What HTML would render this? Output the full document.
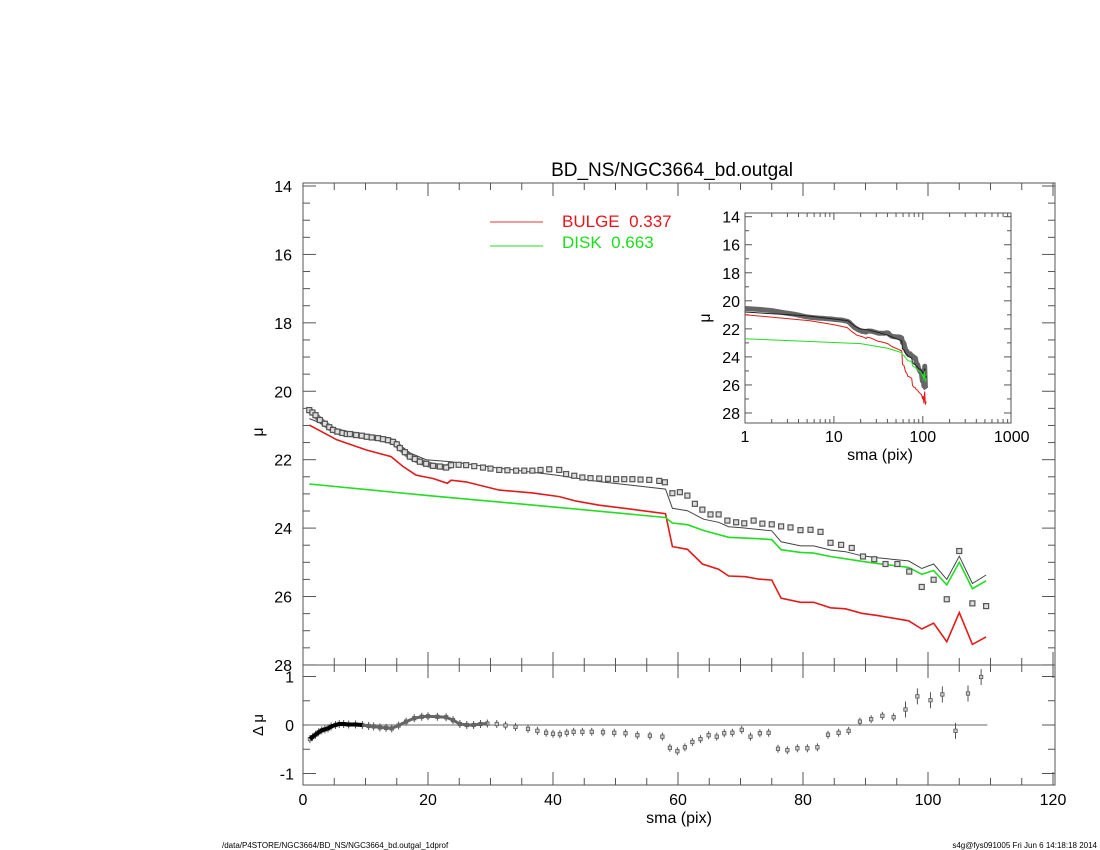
<!DOCTYPE html>
<html><head><meta charset="utf-8"><style>
html,body{margin:0;padding:0;background:#fff}
svg{display:block}
text{font-family:"Liberation Sans",Arial,sans-serif}
</style></head><body>
<svg id="c" width="1100" height="850" xmlns="http://www.w3.org/2000/svg"></svg>
<script>
// ---- data ----
const dataSma=[1,1.5,2,2.7,3.5,4.2,4.8,5.5,6.3,7,7.5,8.5,9.4,10.2,11,12,12.8,13.6,14.4,15,15.5,16.3,17.1,17.9,18.7,19.7,20.8,21.9,22.9,23.7,24.9,26.1,27.4,28.8,30,31.4,32.7,34.1,35.4,36.7,38,39.4,41,42.1,43.4,44.7,46,47.4,48.8,50.1,51.4,52.7,54,55.4,57,57.9,59.1,60.3,61.5,62.7,63.9,65.2,66.5,67.9,69.3,70.6,72.1,73.5,75,76.5,78,79.6,81.2,82.8,84.4,86.1,87.8,89.6,91.4,93.2,95.1,97,99,100.9,103,105,107.1,109.3];
const dataMu=[20.55,20.62,20.7,20.84,20.95,21.05,21.13,21.18,21.22,21.25,21.25,21.28,21.3,21.33,21.35,21.37,21.4,21.43,21.48,21.55,21.66,21.78,21.91,21.98,22.06,22.12,22.18,22.2,22.23,22.16,22.15,22.16,22.19,22.23,22.26,22.3,22.31,22.32,22.32,22.32,22.3,22.28,22.3,22.42,22.47,22.52,22.54,22.55,22.56,22.57,22.57,22.57,22.58,22.59,22.62,22.66,22.98,22.95,23.05,23.29,23.46,23.6,23.6,23.78,23.83,23.86,23.78,23.87,23.89,23.95,23.98,24.06,24.05,24.11,24.43,24.49,24.58,24.83,24.91,25.05,25.05,25.27,25.72,25.51,26.08,24.67,26.2,26.28];
const totalSma=[1,4.8,10,14.4,17.1,19.7,23.7,31.4,40.5,47.4,58,59.1,61.5,64.1,66.5,68.1,70.2,72.9,75,76.5,79.6,81.7,84.4,86.8,89.4,92.1,96.9,99,100.9,103,105,107.1,109.3];
const totalMu=[20.8,21.07,21.3,21.42,21.8,22.0,22.06,22.25,22.45,22.64,22.86,23.42,23.49,23.74,23.83,23.96,23.99,24.04,24.08,24.4,24.52,24.52,24.64,24.69,24.81,24.87,24.96,25.18,25.05,25.5,24.82,25.62,25.37];
const bulgeSma=[1,5.4,10.2,14.1,16,18.1,20.8,23.1,23.7,26.1,31.4,36.7,41,43.7,47.4,52.7,58,59.1,61.5,63.9,66.5,68.1,70.8,72.9,75,76.5,79.6,81.7,84.4,86.8,89.4,92.1,96.9,99,100.9,103,105,107.1,109.3];
const bulgeMu=[20.99,21.42,21.72,21.91,22.2,22.45,22.55,22.69,22.6,22.65,22.89,22.97,23.08,23.21,23.33,23.45,23.58,24.54,24.62,25.05,25.2,25.4,25.42,25.49,25.52,26.05,26.17,26.17,26.33,26.36,26.49,26.56,26.71,26.95,26.78,27.32,26.47,27.4,27.18];
const diskSma=[1,20,40,58,59.1,61.5,64.1,68.1,72.9,75,76.5,79.6,81.7,84.4,89.4,92.1,96.9,99,100.9,103,105,107.1,109.3];
const diskMu=[22.71,23.05,23.38,23.69,23.85,23.9,24.07,24.27,24.31,24.34,24.63,24.71,24.73,24.83,24.97,25.04,25.15,25.35,25.24,25.66,25.0,25.77,25.54];
const resSma=[1.1,1.5,2,2.5,3,3.5,4,4.5,5.2,5.8,6.5,7.3,8.4,9.5,10.5,11.3,12.3,13.3,14.2,15.3,16.5,17.8,19,20,21.5,22.9,24,25.1,26.2,27.3,28.4,29.5,31,32.4,34,36,37.5,38.9,40,41.1,42.2,43.3,44.7,46.2,48,49.8,51.6,53.5,55.5,57.5,58.7,59.9,61.1,62.3,63.6,64.9,66.2,67.4,68.7,70.2,71.6,73.1,74.5,76,77.5,79.1,80.7,82.3,84,85.7,87.3,89.1,90.9,92.7,94.5,96.4,98.3,100.4,102.3,104.4,106.4,108.5];
const resVal=[-0.29,-0.25,-0.2,-0.15,-0.11,-0.09,-0.07,-0.03,0,0.02,0.02,0.01,0.01,0,-0.02,-0.03,-0.05,-0.06,-0.07,-0.01,0.07,0.14,0.17,0.18,0.17,0.16,0.1,0.02,0,0,0.02,0.03,0.02,-0.01,-0.04,-0.08,-0.12,-0.16,-0.18,-0.19,-0.16,-0.14,-0.14,-0.14,-0.15,-0.16,-0.17,-0.21,-0.22,-0.24,-0.47,-0.54,-0.46,-0.35,-0.29,-0.21,-0.24,-0.17,-0.16,-0.1,-0.24,-0.17,-0.16,-0.49,-0.52,-0.48,-0.48,-0.46,-0.2,-0.16,-0.12,0.07,0.12,0.19,0.16,0.32,0.59,0.51,0.63,-0.12,0.65,0.99];
const yTicks=[14,16,18,20,22,24,26,28];
const xTicks=[0,20,40,60,80,100,120];
const rTicks=[1,0,-1];
const logTicks=[1,10,100,1000];

// ---- axes ----
const svg=document.getElementById('c');
const NS='http://www.w3.org/2000/svg';
const X=s=>303+s*6.25;
const Y=m=>186+(m-14)*34.21;
const RY=r=>725-r*48.5;
const IX=s=>745+Math.log10(s)*88.9;
const IY=m=>216.7+(m-14)*14.02;
function el(tag,attrs,parent){const e=document.createElementNS(NS,tag);for(const k in attrs)e.setAttribute(k,attrs[k]);(parent||svg).appendChild(e);return e;}
function txt(x,y,s,size,anchor,fill,parent){const t=el('text',{x:x,y:y,'font-size':size,'text-anchor':anchor||'middle',fill:fill||'#000'},parent);t.textContent=s;return t;}

let t=txt(672,176,'BD_NS/NGC3664_bd.outgal',19);



let g=el('g',{});


el('rect',{x:303,y:183,width:752,height:482,fill:'none',stroke:'#555','stroke-width':1},g);
for(let m=14;m<=28;m+=0.5){const y=Y(m);const L=(m%2===0)?13:7;el('line',{x1:303,x2:303+L,y1:y,y2:y,stroke:'#555'},g);el('line',{x1:1055,x2:1055-L,y1:y,y2:y,stroke:'#555'},g);}
yTicks.forEach(v=>{const tt=txt(292,Y(v)+6,String(v),16,'end','#000',g);});
for(let s=0;s<=120;s+=5){const x=X(s);const L=(s%20===0)?13:7;el('line',{x1:x,x2:x,y1:183,y2:183+L,stroke:'#555'},g);el('line',{x1:x,x2:x,y1:665,y2:665-L,stroke:'#555'},g);}
let yl=txt(263,432,'μ',16,'middle','#000',g);yl.setAttribute('transform','rotate(-90 263 432)');



let lg=el('g',{});


el('line',{x1:490,x2:543,y1:222,y2:222,stroke:'#e33','stroke-width':1},lg);
txt(562,227,'BULGE\u00a0\u00a00.337',17,'start','#e8141c',lg);
el('line',{x1:490,x2:543,y1:246,y2:246,stroke:'#2d2','stroke-width':1},lg);
txt(562,248,'DISK\u00a0\u00a00.663',17,'start','#1ddc1d',lg);

function poly(xs,ys,fx,fy,attrs,name,parent){const p=el('polyline',Object.assign({points:xs.map((s,i)=>fx(s).toFixed(1)+','+fy(ys[i]).toFixed(1)).join(' '),fill:'none'},attrs),parent);return p;}

poly(dataSma.filter(s=>s<24),dataMu.filter((m,i)=>dataSma[i]<24),X,Y,{stroke:'#777','stroke-width':6,'stroke-linejoin':'round'},'data-band');
poly(totalSma,totalMu,X,Y,{stroke:'#444','stroke-width':1},'total-model-line');
poly(bulgeSma,bulgeMu,X,Y,{stroke:'#e41a1a','stroke-width':1.6},'bulge-line');
poly(diskSma,diskMu,X,Y,{stroke:'#22dd22','stroke-width':1.6},'disk-line');
let dg=el('g',{});


dataSma.forEach((s,i)=>{const r=el('rect',{x:X(s)-2.5,y:Y(dataMu[i])-2.5,width:5,height:5,fill:'#ddd',stroke:'#555','stroke-width':1.2},dg);});

let rg=el('g',{});


el('rect',{x:303,y:665,width:752,height:120,fill:'none',stroke:'#555'},rg);
for(let r=-1;r<=1;r+=0.5){const y=RY(r);const L=(r%1===0)?13:7;el('line',{x1:303,x2:303+L,y1:y,y2:y,stroke:'#555'},rg);el('line',{x1:1055,x2:1055-L,y1:y,y2:y,stroke:'#555'},rg);}
for(let s=0;s<=120;s+=5){const x=X(s);const L=(s%20===0)?13:7;el('line',{x1:x,x2:x,y1:665,y2:665+L,stroke:'#555'},rg);el('line',{x1:x,x2:x,y1:785,y2:785-L,stroke:'#555'},rg);}
rTicks.forEach(v=>{const tt=txt(294,RY(v)+6,String(v),16,'end','#000',rg);});
xTicks.forEach(v=>{const tt=txt(X(v),805,String(v),16,'middle','#000',rg);});
let xl=txt(679,823,'sma (pix)',16,'middle','#000');


let rl=txt(263,725,'Δ μ',15,'middle','#000');rl.setAttribute('transform','rotate(-90 263 725)');


el('line',{x1:X(1),x2:X(109.5),y1:RY(0),y2:RY(0),stroke:'#888','stroke-width':1.2},rg);
poly(resSma.filter(s=>s<10),resVal.filter((v,i)=>resSma[i]<10),X,RY,{stroke:'#000','stroke-width':4,'stroke-linejoin':'round'},'residual-band');
poly(resSma.filter(s=>s>=9&&s<30),resVal.filter((v,i)=>resSma[i]>=9&&resSma[i]<30),X,RY,{stroke:'#666','stroke-width':3},'residual-band-2');
resSma.forEach((s,i)=>{const x=X(s),y=RY(resVal[i]);const e=(s>95)?8:4;el('line',{x1:x,x2:x,y1:y-e,y2:y+e,stroke:'#555'},rg);const r=el('rect',{x:x-1.7,y:y-1.7,width:3.4,height:3.4,fill:'#ccc',stroke:'#555','stroke-width':0.8},rg);});

let ig=el('g',{});


el('rect',{x:745,y:213,width:266,height:210,fill:'#fff',stroke:'#555'},ig);
for(let m=14;m<=28;m+=1){const y=IY(m);const L=(m%2===0)?7:4;el('line',{x1:745,x2:745+L,y1:y,y2:y,stroke:'#555'},ig);el('line',{x1:1011,x2:1011-L,y1:y,y2:y,stroke:'#555'},ig);}
for(let d=0;d<3;d++)for(let k=1;k<=9;k++){const x=IX(k*Math.pow(10,d));const L=(k===1)?7:4;el('line',{x1:x,x2:x,y1:213,y2:213+L,stroke:'#555'},ig);el('line',{x1:x,x2:x,y1:423,y2:423-L,stroke:'#555'},ig);}
yTicks.forEach(v=>{const tt=txt(740,IY(v)+6,String(v),16,'end','#000',ig);});
logTicks.forEach(v=>{const tt=txt(IX(v),442,String(v),16,'middle','#000',ig);});
txt(880,460,'sma (pix)',16,'middle','#000',ig);
let il=txt(710,318,'μ',16,'middle','#000',ig);il.setAttribute('transform','rotate(-90 710 318)');
poly(dataSma,dataMu,IX,IY,{stroke:'#666','stroke-width':5,'stroke-linejoin':'round'},'inset-data',ig);
poly(totalSma,totalMu,IX,IY,{stroke:'#222','stroke-width':1},'inset-total-line',ig);
poly(bulgeSma,bulgeMu,IX,IY,{stroke:'#e41a1a','stroke-width':1},'inset-bulge-line',ig);
poly(diskSma,diskMu,IX,IY,{stroke:'#22dd22','stroke-width':1},'inset-disk-line',ig);

let f1=txt(222,848,'/data/P4STORE/NGC3664/BD_NS/NGC3664_bd.outgal_1dprof',8,'start');


let f2=txt(1097,848,'s4g@fys091005  Fri Jun  6 14:18:18 2014',8,'end');


</script>
</body></html>
